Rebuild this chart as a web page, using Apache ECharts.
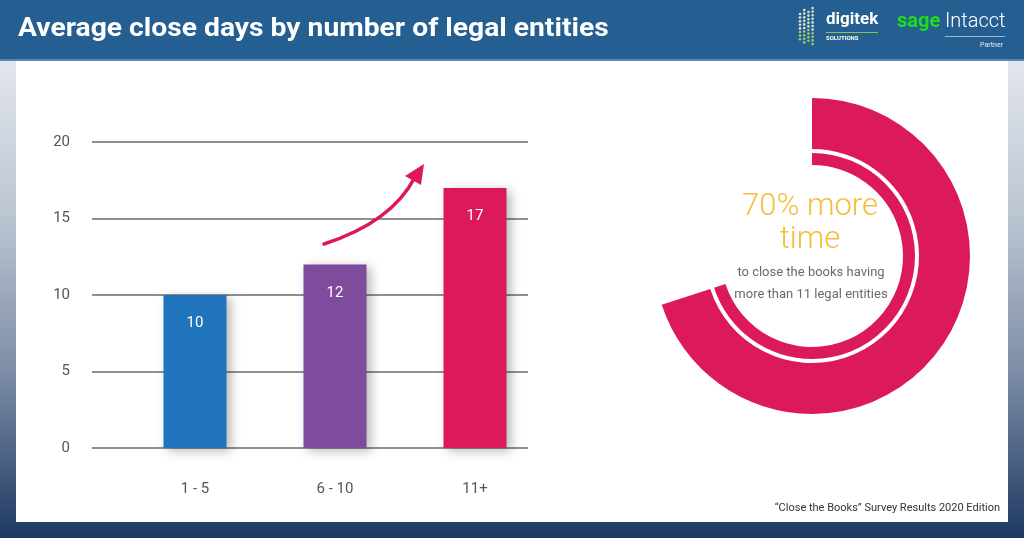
<!DOCTYPE html>
<html>
<head>
<meta charset="utf-8">
<script src="https://cdn.jsdelivr.net/npm/echarts@6/dist/echarts.min.js"></script>
<style>html,body{margin:0;padding:0;}#c{width:1024px;height:538px;}</style>
</head>
<body>
<div id="c"></div>
<script>
const categories = ['1 - 5', '6 - 10', '11+'];
const closeDays = [10, 12, 17];
const barColors = ['#1f74bb', '#7f4b9c', '#dc1a5a'];
const yTicks = [0, 5, 10, 15, 20];
const moreTimePct = [70, 30];

const chart = echarts.init(document.getElementById('c'));
const F = 'Roboto, "Open Sans", sans-serif';

// logo dot grid (decoration)
const dots = [];
const dotCols = [[14, 40], [10, 44], [12, 42], [8, 46]];
for (let c = 0; c < 4; c++) {
  for (let y = dotCols[c][0]; y <= dotCols[c][1]; y += 3.6) {
    dots.push({type: 'circle', shape: {cx: 800 + c * 4.2, cy: y, r: 1.3},
      style: {fill: (y > 30 ? '#9ccc65' : '#d8e6c4')}, silent: true});
  }
}

chart.setOption({
  backgroundColor: {
    type: 'linear', x: 0, y: 0, x2: 0, y2: 1,
    colorStops: [{offset: 0, color: '#f2f4f7'}, {offset: 0.4, color: '#bcc5d2'}, {offset: 0.7, color: '#7b8ba5'}, {offset: 1, color: '#1e3861'}]
  },
  animation: false,
  grid: [
    {left: 125, width: 420, top: 142, bottom: 90},
    {left: 92, width: 436, top: 142, bottom: 90}
  ],
  xAxis: [
    {type: 'category', gridIndex: 0, data: categories,
      axisLine: {show: false}, axisTick: {show: false},
      axisLabel: {margin: 34, fontSize: 15, color: '#555', fontFamily: F}},
    {type: 'value', gridIndex: 1, show: false, min: 0, max: 1}
  ],
  yAxis: [
    {type: 'value', gridIndex: 0, min: 0, max: 20, interval: 5, show: false},
    {type: 'value', gridIndex: 1, min: yTicks[0], max: yTicks[yTicks.length - 1], interval: 5,
      axisLine: {show: false}, axisTick: {show: false},
      axisLabel: {margin: 22, fontSize: 15, color: '#555', fontFamily: F},
      splitLine: {lineStyle: {color: '#6a6a6a', width: 1.5}}}
  ],
  series: [
    {
      type: 'bar', xAxisIndex: 0, yAxisIndex: 0, barWidth: 63, z: 3,
      data: closeDays.map((v, i) => ({value: v, itemStyle: {color: barColors[i]}})),
      itemStyle: {shadowBlur: 10, shadowColor: 'rgba(0,0,0,0.28)', shadowOffsetX: 4, shadowOffsetY: 3},
      label: {show: true, position: 'insideTop', distance: 21, color: '#fff', fontSize: 15, fontFamily: F}
    },
    {
      type: 'pie', center: [812, 256], radius: [107, 158], startAngle: 90, clockwise: true,
      silent: true, label: {show: false}, labelLine: {show: false},
      data: [{value: moreTimePct[0], itemStyle: {color: '#dc1a5a'}},
             {value: moreTimePct[1], itemStyle: {color: 'rgba(0,0,0,0)'}}]
    },
    {
      type: 'pie', center: [812, 256], radius: [91, 103], startAngle: 90, clockwise: true,
      silent: true, label: {show: false}, labelLine: {show: false},
      data: [{value: moreTimePct[0], itemStyle: {color: '#dc1a5a'}},
             {value: moreTimePct[1], itemStyle: {color: 'rgba(0,0,0,0)'}}]
    }
  ],
  graphic: [
    {type: 'rect', shape: {x: 0, y: 0, width: 1024, height: 60}, style: {fill: '#255f91'}, z: -10, silent: true},
    {type: 'rect', shape: {x: 0, y: 59, width: 1024, height: 2}, style: {fill: '#5b87b0'}, z: -10, silent: true},
    {type: 'rect', shape: {x: 16, y: 61, width: 992, height: 461}, style: {fill: '#ffffff'}, z: -10, silent: true},
    {type: 'text', x: 18, y: 30, scaleX: 1.13, style: {text: 'Average close days by number of legal entities', fill: '#fff',
      font: 'bold 25px ' + F, textVerticalAlign: 'middle'}, silent: true},
    ...dots,
    {type: 'text', x: 826, y: 11, style: {text: 'digitek', fill: '#fff', font: 'bold 17px ' + F}, silent: true},
    {type: 'rect', shape: {x: 826, y: 32, width: 52, height: 1}, style: {fill: '#8bc34a'}, silent: true},
    {type: 'text', x: 826, y: 35, style: {text: 'SOLUTIONS', fill: '#fff', font: 'bold 6px ' + F}, silent: true},
    {type: 'text', x: 897, y: 12, style: {text: 'sage', fill: '#1fdc1f', font: 'bold 20px ' + F}, silent: true},
    {type: 'text', x: 945, y: 12, style: {text: 'Intacct', fill: '#fff', font: '300 20px ' + F}, silent: true},
    {type: 'rect', shape: {x: 945, y: 36, width: 60, height: 1}, style: {fill: '#9bb7d2'}, silent: true},
    {type: 'text', x: 1003, y: 42, style: {text: 'Partner', fill: '#e6eef6', font: '7px ' + F, textAlign: 'right'}, silent: true},
    // arrow
    {type: 'bezierCurve', shape: {x1: 324, y1: 244, cpx1: 392, cpy1: 222, x2: 415, y2: 177},
      style: {stroke: '#dc1a5a', lineWidth: 3.5, lineCap: 'round', fill: null}, silent: true, z: 5},
    {type: 'polygon', shape: {points: [[424, 164], [421, 185], [405, 176]]},
      style: {fill: '#dc1a5a'}, silent: true, z: 5},
    // donut centre text
    {type: 'text', x: 810, y: 207, style: {text: '70% more', fill: '#f5bd3c', font: '300 31px ' + F,
      textAlign: 'center', textVerticalAlign: 'middle'}, silent: true},
    {type: 'text', x: 810, y: 240, style: {text: 'time', fill: '#f5bd3c', font: '300 31px ' + F,
      textAlign: 'center', textVerticalAlign: 'middle'}, silent: true},
    {type: 'text', x: 811, y: 273, style: {text: 'to close the books having', fill: '#6b6b6b', font: '13px ' + F,
      textAlign: 'center', textVerticalAlign: 'middle'}, silent: true},
    {type: 'text', x: 811, y: 295, style: {text: 'more than 11 legal entities', fill: '#6b6b6b', font: '13px ' + F,
      textAlign: 'center', textVerticalAlign: 'middle'}, silent: true},
    {type: 'text', x: 1000, y: 508, style: {text: '\u201cClose the Books\u201d Survey Results 2020 Edition', fill: '#333',
      font: '11px ' + F, textAlign: 'right', textVerticalAlign: 'middle'}, silent: true}
  ]
});
</script>
</body>
</html>
